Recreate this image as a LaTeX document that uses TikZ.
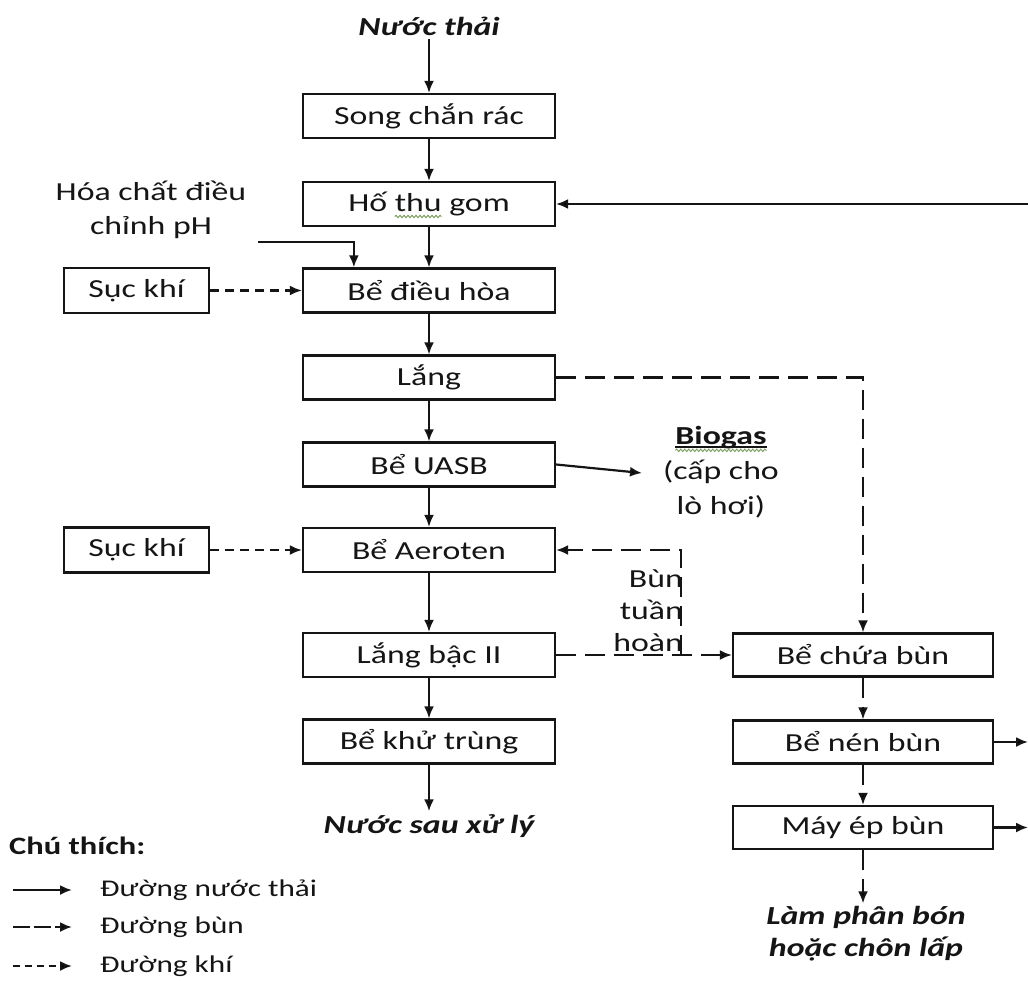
\documentclass[tikz,border=0pt]{standalone}
\usepackage{fontspec}
\setmainfont{Carlito}[FakeStretch=1.3]
\usetikzlibrary{arrows.meta,decorations.pathmorphing}

\definecolor{ink}{HTML}{151515}
\definecolor{spellgreen}{RGB}{120,155,90}

% wavy proofing underline and plain underline drawn under a word
\newsavebox\wordbox
\newcommand\wavyword[1]{\sbox\wordbox{#1}\rlap{\tikz[overlay,baseline=0pt]\draw[spellline] (0pt,-5pt) -- (\wd\wordbox,-5pt);}\usebox\wordbox}
\newcommand\ulwavyword[1]{\sbox\wordbox{#1}\rlap{\tikz[overlay,baseline=0pt]{\draw[ink,line width=1.4pt] (0pt,-2.5pt) -- (\wd\wordbox,-2.5pt);\draw[spellline] (0pt,-6pt) -- (\wd\wordbox,-6pt);}}\usebox\wordbox}

\tikzset{
  spellline/.style={spellgreen, line width=0.9pt, decorate,
    decoration={snake, amplitude=1.2pt, segment length=4pt}},
  every node/.style={text=ink, font=\fontsize{26}{34}\selectfont},
  box/.style={draw=ink, fill=white, line width=2.2pt, minimum width=252pt,
    minimum height=44pt, inner sep=0pt},
  gasbox/.style={box, minimum width=145pt, minimum height=45pt},
  sludgebox/.style={box, minimum width=260pt, minimum height=43pt},
  label/.style={inner sep=3pt},
  water/.style={draw=ink, line width=2.2pt, -{Latex[length=12pt,width=10pt]}},
  sludge/.style={water, dash pattern=on 20pt off 9pt},
  gas/.style={water, dash pattern=on 9pt off 6pt},
  legsludge/.style={water, dash pattern=on 17pt off 4pt},
  leggas/.style={water, dash pattern=on 7pt off 5pt},
}

\begin{document}
\begin{tikzpicture}[x=1pt,y=-1pt]
\path[use as bounding box, fill=white] (0,0) rectangle (1028,980);

% main treatment line
\node[label, font=\fontsize{26}{34}\selectfont\bfseries\itshape] (in) at (429,26) {Nước thải};
\node[box] (song) at (429,116) {Song chắn rác};
\node[box] (hoth) at (429,204) {Hố \wavyword{thu} gom};
\node[box] (dh)   at (429,290.5) {Bể điều hòa};
\node[box] (lang) at (429,377.5) {Lắng};
\node[box] (uasb) at (429,464.5) {Bể UASB};
\node[box] (aer)  at (429,550) {Bể Aeroten};
\node[box] (lb2)  at (429,655) {Lắng bậc II};
\node[box] (kt)   at (429,741.5) {Bể khử trùng};
\node[label, font=\fontsize{26}{34}\selectfont\bfseries\itshape] (out) at (429,826) {Nước sau xử lý};

% aeration and dosing
\node[gasbox] (sk1) at (136.5,290.5) {Sục khí};
\node[gasbox] (sk2) at (136.5,550) {Sục khí};
\node[align=center, inner sep=0pt] (chem) at (151,210) {Hóa chất điều\\chỉnh pH};

% biogas
\node[align=center, inner sep=0pt, font=\fontsize{26}{35}\selectfont] (bg) at (721,472)
  {\textbf{\ulwavyword{Biogas}}\\(cấp cho\\lò hơi)};

% sludge line
\node[sludgebox] (chua) at (863,655) {Bể chứa bùn};
\node[sludgebox] (nen)  at (863,742) {Bể nén bùn};
\node[sludgebox] (mep)  at (863,827.5) {Máy ép bùn};
\node[label, align=center, font=\fontsize{26}{32}\selectfont\bfseries\itshape] (lpb) at (866,934)
  {Làm phân bón\\hoặc chôn lấp};
\node[align=right, anchor=east, inner sep=0pt, font=\fontsize{26}{32}\selectfont] (rctext) at (683,611)
  {Bùn\\tuần\\hoàn};

% free ends of connectors
\coordinate (ret) at (1040,204);
\coordinate (ph) at (258,242);
\coordinate (bgin) at (642,473);
\coordinate (rc) at (681,655);
\coordinate (nenout) at (1028,742);
\coordinate (mepout) at (1028,827.5);

% wastewater connectors
\draw[water] (in.south) -- (song.north);
\draw[water] (song.south) -- (hoth.north);
\draw[water] (hoth.south) -- (dh.north);
\draw[water] (dh.south) -- (lang.north);
\draw[water] (lang.south) -- (uasb.north);
\draw[water] (uasb.south) -- (aer.north);
\draw[water] (aer.south) -- (lb2.north);
\draw[water] (lb2.south) -- (kt.north);
\draw[water] (kt.south) -- (out.north);
\draw[water] (ret) -- (hoth.east);
\draw[water] (ph) -| ([xshift=52pt]dh.north west);
\draw[water] (uasb.east) -- (bgin);
\draw[water] (nen.east) -- (nenout);
\draw[water] (mep.east) -- (mepout);

% air connectors
\draw[gas] (sk1.east) -- (dh.west);
\draw[gas] (sk2.east) -- (aer.west);

% sludge connectors
\draw[sludge] (lang.east) -| (chua.north);
\draw[sludge] (lb2.east) -- (chua.west);
\draw[sludge] (rc) |- (aer.east);
\draw[sludge] (chua.south) -- (nen.north);
\draw[sludge] (nen.south) -- (mep.north);
\draw[sludge] (mep.south) -- (mep.south |- lpb.north);

% legend
\node[anchor=west, inner sep=0pt, font=\fontsize{25}{30}\selectfont\bfseries] (legtitle) at (9,846) {Chú thích:};
\coordinate (l1a) at (13,890);  \coordinate (l1b) at (72,890);
\coordinate (l2a) at (13,927);  \coordinate (l2b) at (72,927);
\coordinate (l3a) at (13,966);  \coordinate (l3b) at (72,966);
\draw[water] (l1a) -- (l1b);
\draw[legsludge] (l2a) -- (l2b);
\draw[leggas] (l3a) -- (l3b);
\node[anchor=west, inner sep=0pt, font=\fontsize{24}{28}\selectfont] (l1t) at (100,890) {Đường nước thải};
\node[anchor=west, inner sep=0pt, font=\fontsize{24}{28}\selectfont] (l2t) at (100,927) {Đường bùn};
\node[anchor=west, inner sep=0pt, font=\fontsize{24}{28}\selectfont] (l3t) at (100,966) {Đường khí};
\end{tikzpicture}
\end{document}
